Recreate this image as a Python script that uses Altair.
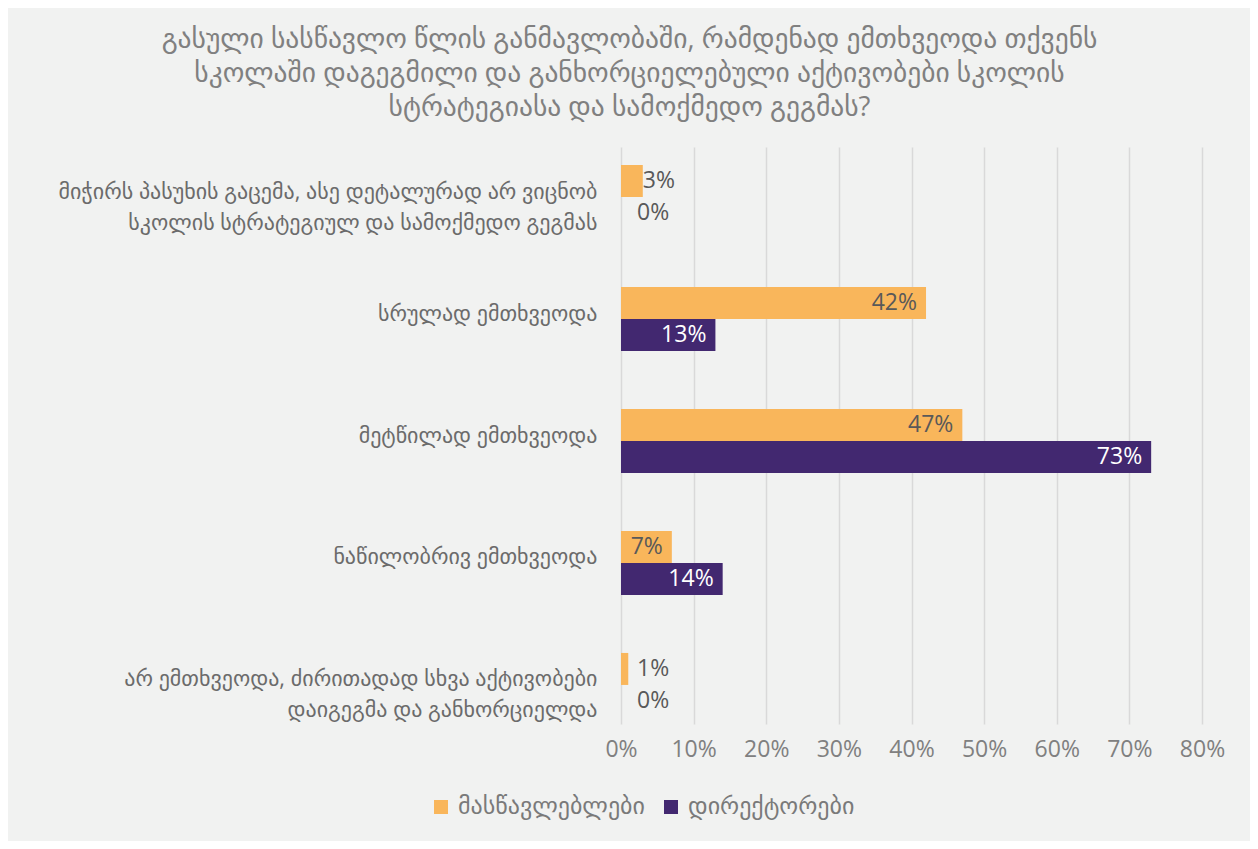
import altair as alt
import pandas as pd

categories = [
    "მიჭირს პასუხის გაცემა, ასე დეტალურად არ ვიცნობ|სკოლის სტრატეგიულ და სამოქმედო გეგმას",
    "სრულად ემთხვეოდა",
    "მეტწილად ემთხვეოდა",
    "ნაწილობრივ ემთხვეოდა",
    "არ ემთხვეოდა, ძირითადად სხვა აქტივობები|დაიგეგმა და განხორციელდა",
]
series = ["მასწავლებლები", "დირექტორები"]
teachers = [0.03, 0.42, 0.47, 0.07, 0.01]
directors = [0.00, 0.13, 0.73, 0.14, 0.00]
x_ticks = [0, 0.1, 0.2, 0.3, 0.4, 0.5, 0.6, 0.7, 0.8]
colors = ["#F9B65B", "#422870"]
title_lines = [
    "გასული სასწავლო წლის განმავლობაში, რამდენად ემთხვეოდა თქვენს",
    "სკოლაში დაგეგმილი და განხორციელებული აქტივობები სკოლის",
    "სტრატეგიასა და სამოქმედო გეგმას?",
]

rows = []
for i, c in enumerate(categories):
    rows.append({"cat": c, "series": series[0], "value": teachers[i]})
    rows.append({"cat": c, "series": series[1], "value": directors[i]})
df = pd.DataFrame(rows)

FONT = "Open Sans, DejaVu Sans"

y_enc = alt.Y(
    "cat:N",
    sort=categories,
    scale=alt.Scale(paddingInner=0.475, paddingOuter=0.1025),
    axis=alt.Axis(
        title=None,
        labelExpr="split(datum.label, '|')",
        labelFontSize=22,
        labelLineHeight=31,
        labelColor="#6B6B6B",
        labelFont=FONT,
        labelPadding=24,
        labelLimit=700,
        ticks=False,
        domain=False,
        grid=False,
    ),
)
yoff = alt.YOffset("series:N", sort=series, scale=alt.Scale(range=[5.5, 69.5]))
x_scale = alt.Scale(domain=[0, 0.8], nice=False)

bars = alt.Chart(df).mark_bar().encode(
    x=alt.X(
        "value:Q",
        scale=x_scale,
        axis=alt.Axis(
            title=None,
            values=x_ticks,
            format=".0%",
            grid=True,
            gridColor="#D9D9D9",
            gridWidth=1.5,
            domain=False,
            ticks=False,
            labelFontSize=23,
            labelColor="#808080",
            labelFont=FONT,
            labelPadding=14,
            labelFlush=False,
            labelOverlap=False,
        ),
    ),
    y=y_enc,
    yOffset=yoff,
    color=alt.Color(
        "series:N",
        sort=series,
        scale=alt.Scale(domain=series, range=colors),
        legend=alt.Legend(
            title=None,
            orient="none",
            direction="horizontal",
            legendX=-192,
            legendY=648,
            symbolType="square",
            symbolSize=196,
            symbolStrokeWidth=0,
            labelFontSize=24,
            labelColor="#7A7A7A",
            labelFont=FONT,
            labelOffset=5,
            labelLimit=400,
            columnPadding=14,
            padding=0,
        ),
    ),
)

inside = alt.Chart(df).transform_filter("datum.value >= 0.05").mark_text(
    align="right", baseline="middle", dx=-9, fontSize=23, font=FONT
).encode(
    x=alt.X("value:Q", scale=x_scale),
    y=alt.Y("cat:N", sort=categories),
    yOffset=yoff,
    text=alt.Text("value:Q", format=".0%"),
    color=alt.condition(
        alt.datum.series == series[1], alt.value("white"), alt.value("#595959")
    ),
)

outside = alt.Chart(df).transform_filter("datum.value < 0.05").transform_calculate(
    pos="max(datum.value, 0.022)"
).mark_text(
    align="left", baseline="middle", dx=0, fontSize=23, font=FONT, color="#595959"
).encode(
    x=alt.X("pos:Q", scale=x_scale),
    y=alt.Y("cat:N", sort=categories),
    yOffset=yoff,
    text=alt.Text("value:Q", format=".0%"),
)

chart = (
    alt.layer(bars, inside, outside)
    .properties(
        width=581,
        height=577,
        autosize=alt.AutoSizeParams(type="none"),
        padding={"left": 613, "top": 139, "right": 48, "bottom": 117},
        background="#F1F2F1",
        title=alt.TitleParams(
            text=title_lines,
            fontSize=27.5,
            lineHeight=34,
            color="#808080",
            font=FONT,
            fontWeight="normal",
            anchor="middle",
            dx=-282,
            offset=26,
        ),
    )
    .configure_view(stroke=None)
)

chart.save("out.html", embed_options={"renderer": "svg", "actions": False})
